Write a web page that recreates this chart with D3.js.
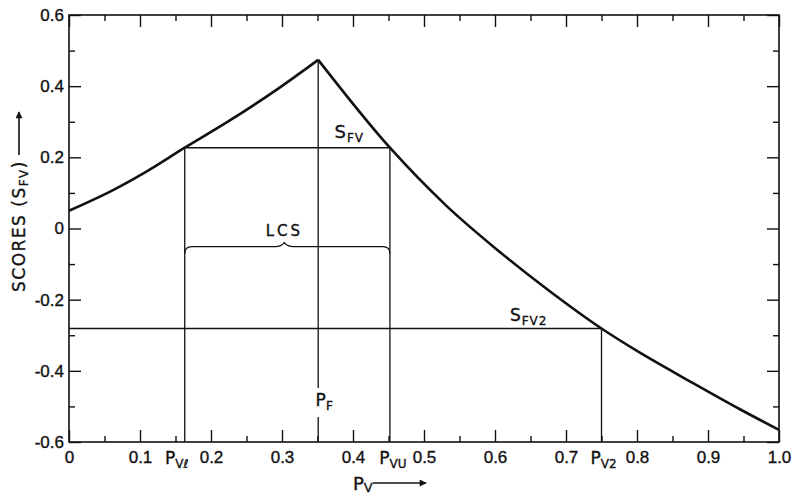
<!DOCTYPE html>
<html>
<head>
<meta charset="utf-8">
<script src="https://cdn.jsdelivr.net/npm/d3@7"></script>
<style>
  html, body { margin: 0; padding: 0; background: #fff; }
  svg { display: block; font-family: "DejaVu Sans", "Liberation Sans", sans-serif; }
  svg text { stroke: #111; stroke-width: 0.35px; }
  .tick text { font-size: 17px; fill: #111; }
</style>
</head>
<body>
<svg id="chart" width="796" height="494"></svg>
<script>
// Score curve S_FV as a function of P_V (peak at P_F)
const pv  = [0, 0.062, 0.109, 0.163, 0.222, 0.288, 0.351, 0.452, 0.532, 0.602, 0.673, 0.75, 0.8, 0.875, 0.945, 1.0];
const sfv = [0.05, 0.108, 0.16, 0.227, 0.298, 0.384, 0.474, 0.227, 0.063, -0.058, -0.17, -0.281, -0.344, -0.43, -0.508, -0.566];

// Marked points on the curve
const pvLower = 0.163;   // P_Vl
const pvUpper = 0.452;   // P_VU
const pF      = 0.351;   // P_F
const sFV     = 0.227;   // S_FV level
const pV2     = 0.75;    // P_V2
const sFV2    = -0.281;  // S_FV2 level
const lcsLevel = -0.051; // LCS bracket level

// Axis ticks and labels
const xTickValues = [0, 0.1, 0.2, 0.3, 0.4, 0.5, 0.6, 0.7, 0.8, 0.9, 1.0];
const xTickLabels = ["0", "0.1", "0.2", "0.3", "0.4", "0.5", "0.6", "0.7", "0.8", "0.9", "1.0"];
const xMinorValues = [0.05, 0.15, 0.25, 0.35, 0.45, 0.55, 0.65, 0.75, 0.85, 0.95];
const yTickValues = [-0.6, -0.4, -0.2, 0, 0.2, 0.4, 0.6];
const yTickLabels = ["-0.6", "-0.4", "-0.2", "0", "0.2", "0.4", "0.6"];
const yMinorValues = [-0.5, -0.3, -0.1, 0.1, 0.3, 0.5];

const svg = d3.select("#chart");
const margin = { left: 69, right: 17, top: 15, bottom: 52 };
const W = 796, H = 494;
const x = d3.scaleLinear().domain([0, 1]).range([margin.left, W - margin.right]);
const y = d3.scaleLinear().domain([-0.6, 0.6]).range([H - margin.bottom, margin.top]);
const ink = "#111";

// Frame
svg.append("rect")
  .attr("x", x(0)).attr("y", y(0.6))
  .attr("width", x(1) - x(0)).attr("height", y(-0.6) - y(0.6))
  .attr("fill", "none").attr("stroke", ink).attr("stroke-width", 1.6);

function styleAxis(g) {
  g.select(".domain").remove();
  g.selectAll(".tick line").attr("stroke", ink).attr("stroke-width", 1.4);
  g.selectAll(".tick text").attr("fill", ink);
}

// Bottom axis: inward major ticks with labels, minor ticks
svg.append("g").attr("transform", `translate(0,${y(-0.6)})`)
  .call(d3.axisBottom(x).tickValues(xTickValues)
    .tickFormat((d, i) => xTickLabels[i]).tickSizeInner(-12).tickSizeOuter(0).tickPadding(9))
  .call(styleAxis);
svg.append("g").attr("transform", `translate(0,${y(-0.6)})`)
  .call(d3.axisBottom(x).tickValues(xMinorValues).tickFormat("").tickSizeInner(-6).tickSizeOuter(0))
  .call(styleAxis);

// Top axis: inward ticks only
svg.append("g").attr("transform", `translate(0,${y(0.6)})`)
  .call(d3.axisTop(x).tickValues(xTickValues).tickFormat("").tickSizeInner(-12).tickSizeOuter(0))
  .call(styleAxis);
svg.append("g").attr("transform", `translate(0,${y(0.6)})`)
  .call(d3.axisTop(x).tickValues(xMinorValues).tickFormat("").tickSizeInner(-6).tickSizeOuter(0))
  .call(styleAxis);

// Left axis
svg.append("g").attr("transform", `translate(${x(0)},0)`)
  .call(d3.axisLeft(y).tickValues(yTickValues)
    .tickFormat((d, i) => yTickLabels[i]).tickSizeInner(-12).tickSizeOuter(0).tickPadding(5))
  .call(styleAxis);
svg.append("g").attr("transform", `translate(${x(0)},0)`)
  .call(d3.axisLeft(y).tickValues(yMinorValues).tickFormat("").tickSizeInner(-6).tickSizeOuter(0))
  .call(styleAxis);

// Right axis: inward ticks only
svg.append("g").attr("transform", `translate(${x(1)},0)`)
  .call(d3.axisRight(y).tickValues(yTickValues).tickFormat("").tickSizeInner(-12).tickSizeOuter(0))
  .call(styleAxis);
svg.append("g").attr("transform", `translate(${x(1)},0)`)
  .call(d3.axisRight(y).tickValues(yMinorValues).tickFormat("").tickSizeInner(-6).tickSizeOuter(0))
  .call(styleAxis);

// Construction lines
const thin = 1.3;
function seg(x1, y1, x2, y2) {
  svg.append("line").attr("x1", x1).attr("y1", y1).attr("x2", x2).attr("y2", y2)
    .attr("stroke", ink).attr("stroke-width", thin);
}
seg(x(pvLower), y(sFV), x(pvUpper), y(sFV));
seg(x(pvLower), y(sFV), x(pvLower), y(-0.6));
seg(x(pvUpper), y(sFV), x(pvUpper), y(-0.6));
seg(x(0), y(sFV2), x(pV2), y(sFV2));
seg(x(pV2), y(sFV2), x(pV2), y(-0.6));
// P_F line, broken around its label
const pfLabelY = 406;
const peakIdx = pv.indexOf(pF);
seg(x(pF), y(sfv[peakIdx]), x(pF), pfLabelY - 18);
seg(x(pF), pfLabelY + 11, x(pF), y(-0.6));

// LCS bracket
{
  const xl = x(pvLower), xr = x(pvUpper), yl = y(lcsLevel), xm = (xl + xr) / 2 - 3;
  const p = d3.path();
  p.moveTo(xl, yl + 7);
  p.quadraticCurveTo(xl, yl, xl + 7, yl);
  p.lineTo(xm - 9, yl);
  p.quadraticCurveTo(xm - 3, yl, xm, yl - 4);
  p.quadraticCurveTo(xm + 3, yl, xm + 9, yl);
  p.lineTo(xr - 7, yl);
  p.quadraticCurveTo(xr, yl, xr, yl + 7);
  svg.append("path").attr("d", p.toString()).attr("fill", "none")
    .attr("stroke", ink).attr("stroke-width", thin);
}

// Score curve: two smooth branches meeting at the peak
const line = d3.line().x(d => x(d[0])).y(d => y(d[1])).curve(d3.curveMonotoneX);
const pts = pv.map((v, i) => [v, sfv[i]]);
[pts.slice(0, peakIdx + 1), pts.slice(peakIdx)].forEach(branch => {
  svg.append("path").attr("d", line(branch)).attr("fill", "none")
    .attr("stroke", ink).attr("stroke-width", 2.6).attr("stroke-linejoin", "round");
});

// Text with subscript
function subText(px, py, main, sub, opts = {}) {
  const t = svg.append("text").attr("x", px).attr("y", py)
    .attr("font-size", opts.size || 17).attr("fill", ink)
    .attr("text-anchor", opts.anchor || "start")
    .attr("letter-spacing", opts.spacing || 0);
  if (opts.transform) t.attr("transform", opts.transform);
  t.append("tspan").text(main);
  t.append("tspan").attr("font-size", opts.subSize || 12).attr("dy", opts.subDy || 4).text(sub);
  if (opts.tail) t.append("tspan").attr("dy", -(opts.subDy || 4)).text(opts.tail);
  return t;
}

// Special axis labels
const axisLabelY = y(-0.6) + 22;
subText(x(pvLower) - 8, axisLabelY, "P", "Vℓ", { anchor: "middle" });
subText(x(pvUpper) + 3, axisLabelY, "P", "VU", { anchor: "middle" });
subText(x(pV2) + 2, axisLabelY, "P", "V2", { anchor: "middle" });

// In-plot labels
subText(x(pF) + 6, pfLabelY, "P", "F", { anchor: "middle" });
subText(x(0.374), y(sFV) - 10, "S", "FV", { size: 18, subSize: 12, spacing: 1 });
subText(x(0.621), y(sFV2) - 7, "S", "FV2", { size: 17, subSize: 12, spacing: 1 });
svg.append("text").attr("x", (x(pvLower) + x(pvUpper)) / 2 - 3).attr("y", y(lcsLevel) - 11)
  .attr("text-anchor", "middle").attr("font-size", 15).attr("letter-spacing", 3)
  .attr("fill", ink).text("LCS");

// Arrowhead marker
svg.append("defs").append("marker")
  .attr("id", "arrow").attr("viewBox", "0 0 10 10").attr("refX", 9).attr("refY", 5)
  .attr("markerWidth", 11).attr("markerHeight", 7).attr("markerUnits", "userSpaceOnUse")
  .attr("orient", "auto")
  .append("path").attr("d", "M0,0 L10,5 L0,10 Z").attr("fill", ink);

// X-axis title
subText(353, 490, "P", "V", { size: 18, subSize: 13, subDy: 2 });
svg.append("line").attr("x1", 373).attr("y1", 483).attr("x2", 426).attr("y2", 483)
  .attr("stroke", ink).attr("stroke-width", 1.6).attr("marker-end", "url(#arrow)");

// Y-axis title (reads upward), arrow follows the text
const yTitle = subText(25, 292, "SCORES (S", "FV", {
  size: 17, subSize: 12, subDy: 3, tail: ")", spacing: 1.5,
  transform: "rotate(-90 25 292)"
});
const titleLen = yTitle.node().getComputedTextLength();
svg.append("line").attr("x1", 19).attr("y1", 292 - titleLen - 5).attr("x2", 19).attr("y2", 112)
  .attr("stroke", ink).attr("stroke-width", 1.6).attr("marker-end", "url(#arrow)");
</script>
</body>
</html>
